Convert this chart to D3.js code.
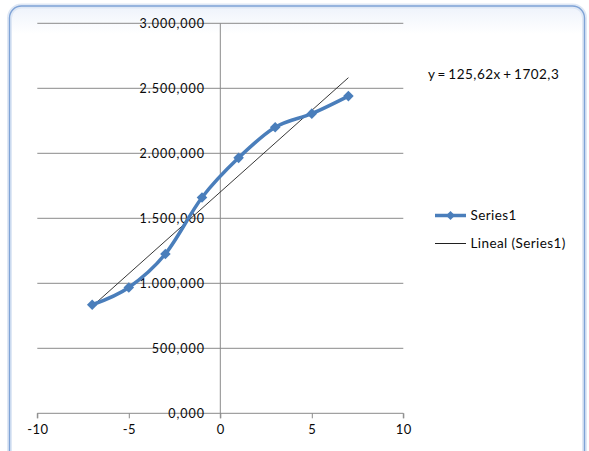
<!DOCTYPE html>
<html>
<head>
<meta charset="utf-8">
<script src="https://cdn.jsdelivr.net/npm/d3@7"></script>
<style>
  html, body { margin: 0; padding: 0; background: #ffffff; }
  svg { display: block; }
  text { font-family: Lato, "Open Sans", sans-serif; fill: #0a0a0a; }
</style>
</head>
<body>
<svg id="chart" width="589" height="451"></svg>
<script>
// Series1 sample points
const xValues = [-7, -5, -3, -1, 1, 3, 5, 7];
const yValues = [835, 968, 1226, 1660, 1965, 2200, 2305, 2440];

// Linear trend (least squares) as reported on the chart
const trendSlope = 125.62;
const trendIntercept = 1702.3;

// Axis ticks
const xTicks = [-10, -5, 0, 5, 10];
const yTicks = [0, 500, 1000, 1500, 2000, 2500, 3000];

const seriesName = "Series1";
const trendName = "Lineal (Series1)";

const svg = d3.select("#chart");

// Spanish number formatting: "." for thousands, "," for decimals
const esLocale = d3.formatLocale({ decimal: ",", thousands: ".", grouping: [3], currency: ["", "€"] });
const fmtY = esLocale.format(",.3f");

// Chart frame with a soft inner glow
const defs = svg.append("defs");
const grad = defs.append("linearGradient").attr("id", "frameFill").attr("x1", 0).attr("y1", 0).attr("x2", 0).attr("y2", 1);
grad.append("stop").attr("offset", "0").attr("stop-color", "#eef3fb");
grad.append("stop").attr("offset", "0.06").attr("stop-color", "#ffffff");
grad.append("stop").attr("offset", "1").attr("stop-color", "#ffffff");

svg.append("rect")
  .attr("x", 9.5).attr("y", 6).attr("width", 575).attr("height", 470)
  .attr("rx", 12).attr("ry", 12)
  .attr("fill", "url(#frameFill)")
  .attr("stroke", "#dfe8f5").attr("stroke-width", 5);
svg.append("rect")
  .attr("x", 9.5).attr("y", 6).attr("width", 575).attr("height", 470)
  .attr("rx", 12).attr("ry", 12)
  .attr("fill", "none")
  .attr("stroke", "#7fa3d6").attr("stroke-width", 1.4);

// Scales
const x = d3.scaleLinear().domain([-10, 10]).range([37.3, 403.3]);
const y = d3.scaleLinear().domain([0, 3000]).range([413.3, 23.3]);

const gridColor = "#8a8a8a";

// Horizontal gridlines
svg.append("g").selectAll("line").data(yTicks.filter(d => d !== 0)).join("line")
  .attr("x1", x(-10)).attr("x2", x(10))
  .attr("y1", d => y(d)).attr("y2", d => y(d))
  .attr("stroke", gridColor).attr("stroke-width", 1);

// Vertical axis at x = 0
svg.append("line")
  .attr("x1", x(0)).attr("x2", x(0))
  .attr("y1", y(3000)).attr("y2", y(0) + 5)
  .attr("stroke", gridColor).attr("stroke-width", 1);

// Horizontal axis at y = 0
const xAxis = d3.axisBottom(x).tickValues(xTicks).tickSize(5).tickPadding(6).tickFormat(d3.format("d"));
const gx = svg.append("g").attr("transform", `translate(0,${y(0)})`).call(xAxis);
gx.select(".domain").attr("stroke", gridColor).attr("d", `M${x(-10)},5V0H${x(10)}V5`);
gx.selectAll(".tick line").attr("stroke", gridColor);
gx.selectAll(".tick text")
  .attr("font-family", "Lato, 'Open Sans', sans-serif")
  .attr("font-size", 13).attr("fill", "#0a0a0a")
  .attr("letter-spacing", 0.4)
  .text(d => d < 0 ? "-" + Math.abs(d) : d);

// Y tick labels, right aligned next to the vertical axis
svg.append("g").selectAll("text").data(yTicks).join("text")
  .attr("x", 205)
  .attr("y", d => y(d))
  .attr("dy", "0.36em")
  .attr("text-anchor", "end")
  .attr("font-size", 12.5)
  .attr("letter-spacing", 1.0)
  .text(d => fmtY(d));

// Trend line over the data range
const xMin = d3.min(xValues), xMax = d3.max(xValues);
svg.append("line")
  .attr("x1", x(xMin)).attr("y1", y(trendSlope * xMin + trendIntercept))
  .attr("x2", x(xMax)).attr("y2", y(trendSlope * xMax + trendIntercept))
  .attr("stroke", "#202020").attr("stroke-width", 0.9);

// Smoothed series line
const pts = xValues.map((v, i) => [v, yValues[i]]);
const seriesColor = "#4a7ebb";
const line = d3.line().x(d => x(d[0])).y(d => y(d[1])).curve(d3.curveCatmullRom.alpha(0));
svg.append("path")
  .datum(pts)
  .attr("d", line)
  .attr("fill", "none")
  .attr("stroke", seriesColor)
  .attr("stroke-width", 3.5)
  .attr("stroke-linejoin", "round");

// Diamond markers
const diamond = d3.symbol().type(d3.symbolSquare).size(56);
svg.append("g").selectAll("path").data(pts).join("path")
  .attr("d", diamond)
  .attr("transform", d => `translate(${x(d[0])},${y(d[1])}) rotate(45)`)
  .attr("fill", seriesColor);

// Trend equation label
const eqText = `y = ${esLocale.format(".2f")(trendSlope)}x + ${esLocale.format(".1f")(trendIntercept)}`;
svg.append("text")
  .attr("x", 428).attr("y", 79)
  .attr("font-size", 13.5)
  .attr("letter-spacing", 0.5)
  .attr("word-spacing", -1.5)
  .text(eqText);

// Legend
const lg = svg.append("g");
lg.append("line").attr("x1", 435).attr("x2", 466).attr("y1", 215.5).attr("y2", 215.5)
  .attr("stroke", seriesColor).attr("stroke-width", 3.5);
lg.append("path").attr("d", d3.symbol().type(d3.symbolSquare).size(40))
  .attr("transform", "translate(450.5,215.5) rotate(45)").attr("fill", seriesColor);
lg.append("text").attr("x", 470.5).attr("y", 215.5).attr("dy", "0.36em")
  .attr("font-size", 13.5).attr("letter-spacing", 0.4).text(seriesName);
lg.append("line").attr("x1", 435).attr("x2", 466).attr("y1", 243.5).attr("y2", 243.5)
  .attr("stroke", "#202020").attr("stroke-width", 1);
lg.append("text").attr("x", 470.5).attr("y", 243.5).attr("dy", "0.36em")
  .attr("font-size", 13.5).attr("letter-spacing", 0.4).text(trendName);
</script>
</body>
</html>
